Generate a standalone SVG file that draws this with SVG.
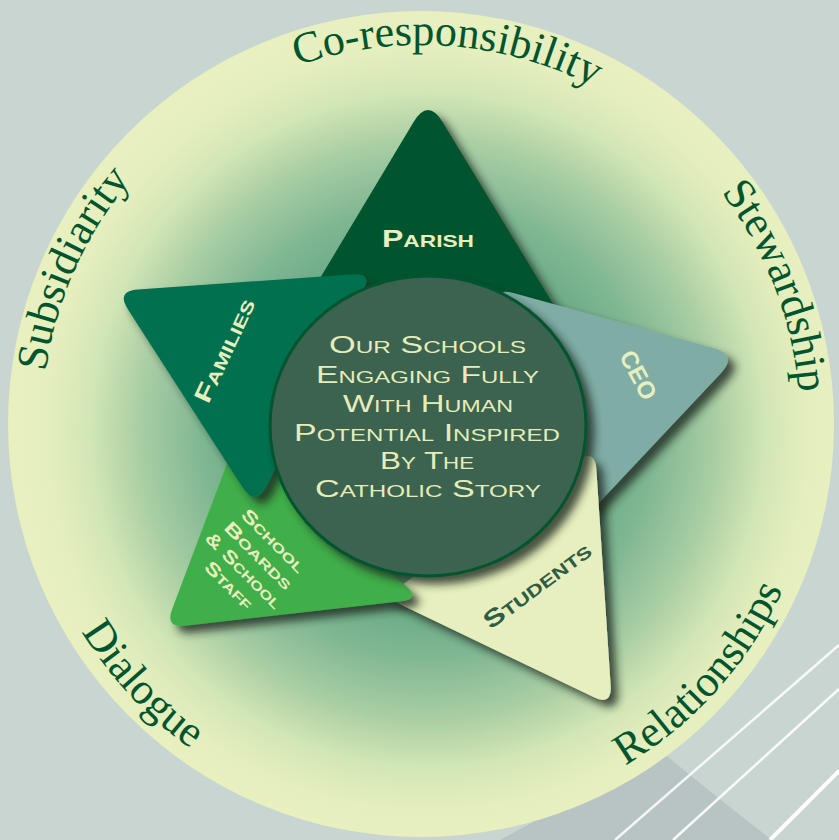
<svg xmlns="http://www.w3.org/2000/svg" width="839" height="840" viewBox="0 0 839 840">
<defs>
<radialGradient id="ringGrad" gradientUnits="userSpaceOnUse" cx="428" cy="430" r="413">
<stop offset="0" stop-color="#3f8d69"/>
<stop offset="0.35" stop-color="#5ea27e"/>
<stop offset="0.55" stop-color="#80b793"/>
<stop offset="0.7" stop-color="#aacea4"/>
<stop offset="0.82" stop-color="#d3e6b6"/>
<stop offset="0.92" stop-color="#e5eebd"/>
<stop offset="1" stop-color="#e7f0be"/>
</radialGradient>
<filter id="sh" x="-20%" y="-20%" width="150%" height="150%">
<feGaussianBlur in="SourceAlpha" stdDeviation="4"/>
<feOffset dx="7" dy="7" result="b"/>
<feFlood flood-color="#1e2a20" flood-opacity="0.8"/>
<feComposite in2="b" operator="in"/>
<feMerge><feMergeNode/><feMergeNode in="SourceGraphic"/></feMerge>
</filter>
<path id="arcTop" d="M421,803 A379,379 0 1,1 421,45 A379,379 0 1,1 421,803"/>
<path id="arcBot" d="M421,26 A398,398 0 1,0 421,822 A398,398 0 1,0 421,26"/>
<style>
.ringtxt{font-family:"Liberation Serif","Times New Roman",serif;font-size:44px;fill:#00552f;text-anchor:middle}
.lbl{font-family:"Liberation Sans",Arial,sans-serif;font-weight:bold;font-variant:small-caps;fill:#e8efbe;text-anchor:middle}
.ctr{font-family:"Liberation Sans",Arial,sans-serif;font-variant:small-caps;fill:#e6ecba;font-size:24px;text-anchor:middle}
.wl{stroke:#ffffff;fill:none}
</style>
</defs>

<g id="background">
<rect x="0" y="0" width="839" height="840" fill="#c8d5d1"/>
<path d="M500,840 L662,752 Q720,800 772,840 Z" fill="#b8c4c4"/>
<line class="wl" x1="615" y1="840" x2="839" y2="645" stroke-width="2.5" stroke-opacity="0.85"/>
<line class="wl" x1="673" y1="840" x2="839" y2="689" stroke-width="2.5" stroke-opacity="0.9"/>
<line class="wl" x1="770" y1="840" x2="839" y2="771" stroke-width="4"/>
</g>

<g id="ring">
<circle cx="421" cy="424" r="413" fill="url(#ringGrad)"/>
<text class="ringtxt"><textPath href="#arcTop" startOffset="754">Subsidiarity</textPath></text>
<text class="ringtxt"><textPath href="#arcTop" startOffset="1217">Co-responsibility</textPath></text>
<text class="ringtxt"><textPath href="#arcTop" startOffset="1645">Stewardship</textPath></text>
<text class="ringtxt"><textPath href="#arcBot" startOffset="924">Dialogue</textPath></text>
<text class="ringtxt"><textPath href="#arcBot" startOffset="1584">Relationships</textPath></text>
</g>

<g id="connectors"/>

<g id="node-parish">
<path d="M413.6,122 Q428,98 442.5,122 L578,345 L280,345 Z" fill="#00552f" filter="url(#sh)"/>
<text class="lbl" x="428" y="247" font-size="24" textLength="92" lengthAdjust="spacingAndGlyphs">Parish</text>
</g>

<g id="node-ceo">
<path d="M512.4,292.8 L713.9,348.3 Q738,355 720.9,373.2 L565,539 L499.8,305.3 Q495,288 512.4,292.8 Z" fill="#7fada6" filter="url(#sh)"/>
<text class="lbl" font-size="24" transform="translate(631,379) rotate(62)" textLength="52" lengthAdjust="spacingAndGlyphs">CEO</text>
</g>

<g id="node-students">
<path d="M596.4,470 L610.7,686 Q612,706 594,697.3 L385,597 L577,460.7 Q595,448 596.4,470 Z" fill="#e6efbd" filter="url(#sh)"/>
<text class="lbl" font-size="24" style="fill:#2e5c46" transform="translate(542,592) rotate(-36.5)" textLength="128" lengthAdjust="spacingAndGlyphs">Students</text>
</g>

<g id="node-schoolboards">
<path d="M184.9,625.7 L401.1,601.3 Q421,599 405.8,586 L236,440 L172.1,609.3 Q165,628 184.9,625.7 Z" fill="#3fae4a" filter="url(#sh)"/>
<g transform="translate(269,545) rotate(45)">
<text class="lbl" font-size="18" x="0" y="0" textLength="82" lengthAdjust="spacingAndGlyphs">School</text>
<text class="lbl" font-size="18" x="0" y="21" textLength="88" lengthAdjust="spacingAndGlyphs">Boards</text>
<text class="lbl" font-size="18" x="0" y="42" textLength="100" lengthAdjust="spacingAndGlyphs">&amp; School</text>
<text class="lbl" font-size="18" x="0" y="63" textLength="60" lengthAdjust="spacingAndGlyphs">Staff</text>
</g>
</g>

<g id="node-families">
<path d="M138,289.5 L354,274.3 Q372,273 364,289.1 L267.1,485.6 Q256,508 242.4,487 L128,309.5 Q116,291 138,289.5 Z" fill="#00704f" filter="url(#sh)"/>
<text class="lbl" font-size="24" transform="translate(232,354) rotate(-65)" textLength="112" lengthAdjust="spacingAndGlyphs">Families</text>
</g>

<g id="node-center">
<ellipse cx="428" cy="426" rx="158" ry="150" fill="#3a634f" stroke="#00552f" stroke-width="3" filter="url(#sh)"/>
<text class="ctr" x="427.5" y="353" textLength="197" lengthAdjust="spacingAndGlyphs">Our Schools</text>
<text class="ctr" x="427.5" y="383" textLength="223" lengthAdjust="spacingAndGlyphs">Engaging Fully</text>
<text class="ctr" x="428" y="412" textLength="170" lengthAdjust="spacingAndGlyphs">With Human</text>
<text class="ctr" x="427" y="441" textLength="266" lengthAdjust="spacingAndGlyphs">Potential Inspired</text>
<text class="ctr" x="427" y="469" textLength="94" lengthAdjust="spacingAndGlyphs">By The</text>
<text class="ctr" x="428" y="497" textLength="226" lengthAdjust="spacingAndGlyphs">Catholic Story</text>
</g>
</svg>
